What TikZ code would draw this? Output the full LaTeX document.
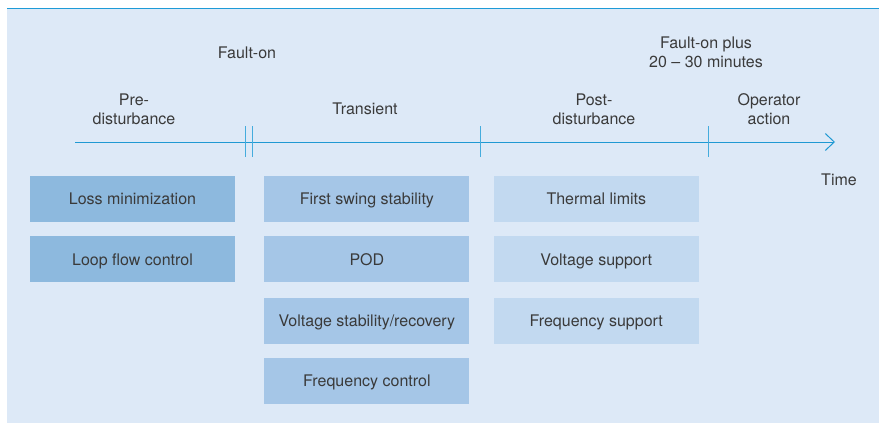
\documentclass[tikz,border=0pt]{standalone}
\usepackage{fontspec}
\setmainfont{TeX Gyre Heros}
\usetikzlibrary{arrows.meta,positioning}

\definecolor{panelbg}{HTML}{DDE9F7}
\definecolor{rulecol}{HTML}{1E9BD7}
\definecolor{axiscol}{HTML}{1F99D3}
\definecolor{tickcol}{HTML}{45ACDD}
\definecolor{preblue}{HTML}{8DB9DE}
\definecolor{transblue}{HTML}{A5C6E7}
\definecolor{postblue}{HTML}{C2D9F0}
\definecolor{txtgray}{HTML}{3A3A3A}

\begin{document}
\begin{tikzpicture}[x=1pt,y=-1pt,
		every node/.style={text=txtgray, font=\fontsize{16}{19}\selectfont},
		task/.style={fill=#1, minimum width=205pt, minimum height=46pt, inner sep=0pt,
			text height=11.5pt, text depth=0pt},
		phase/.style={align=center, inner sep=0pt}]
				\useasboundingbox (0,0) rectangle (879,423);
				\fill[panelbg] (7,8.5) rectangle (879,423);
				\draw[rulecol, line width=1.5pt] (7,8.5) -- (879,8.5);

				% time axis
				\coordinate (tstart) at (75,142);
				\coordinate (tend) at (835,142);
				\draw[axiscol, line width=1pt, -{Straight Barb[length=9pt, width=17pt, line width=1pt]}] (tstart) -- (tend);
				\foreach \x in {245,252,480,708}
					\draw[tickcol, line width=1pt] (\x,126) -- (\x,157);

				% phase labels
				\node[phase] (faulton) at (247,53) {Fault-on};
				\node[phase] (faultplus) at (706,52) {Fault-on plus\\20 -- 30 minutes};
				\node[phase] (pre) at (134,109) {Pre-\\disturbance};
				\node[phase] (trans) at (365,109) {Transient};
				\node[phase] (post) at (594,109) {Post-\\disturbance};
				\node[phase] (operator) at (769,109) {Operator\\action};
				\node[phase] (time) at (839,180) {Time};

				% pre-disturbance tasks
				\node[task=preblue] (loss) at (132.5,199) {Loss minimization};
				\node[task=preblue, below=14pt of loss] (loop) {Loop flow control};

				% transient tasks
				\node[task=transblue, right=29pt of loss] (swing) {First swing stability};
				\node[task=transblue, below=14pt of swing] (pod) {POD};
				\node[task=transblue, below=15pt of pod] (vstab) {Voltage stability/recovery};
				\node[task=transblue, below=14pt of vstab] (fctrl) {Frequency control};

				% post-disturbance tasks
				\node[task=postblue, right=24pt of swing] (thermal) {Thermal limits};
				\node[task=postblue, below=14pt of thermal] (vsupp) {Voltage support};
				\node[task=postblue, below=15pt of vsupp] (fsupp) {Frequency support};
			\end{tikzpicture}
\end{document}
